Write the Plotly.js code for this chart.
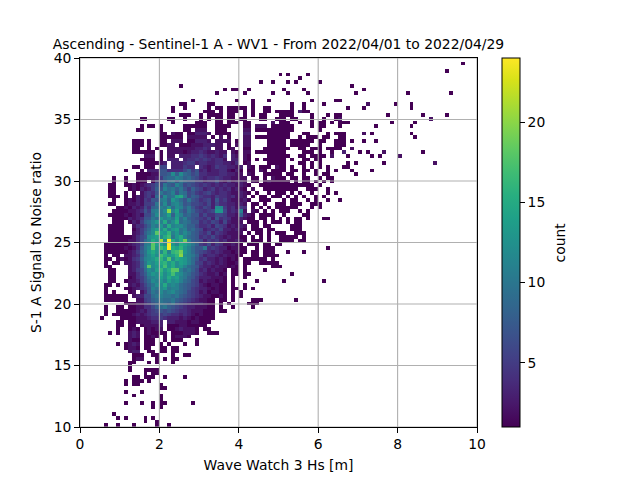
<!DOCTYPE html>
<html>
<head>
<meta charset="utf-8">
<script src="https://cdn.plot.ly/plotly-3.0.1.min.js"></script>
<style>html,body{margin:0;padding:0;background:#fff}</style>
</head>
<body>
<div id="chart" style="width:640px;height:480px"></div>
<script>
var xTicks = [0, 2, 4, 6, 8, 10];
var yTicks = [10, 15, 20, 25, 30, 35, 40];
var barTicks = [5, 10, 15, 20];
var binCountX = 100;
var binWidthX = 0.1;
var binWidthY = 0.3;
var topEdgeY = 40;
// counts per bin, top row first. "column:values", base-36 digits, '.' = empty bin
var countRows = [
"",
"96:1",
"",
"92:1",
"50:1.1 57:1",
"55:1",
"45:1 48:1 52:1.1 60:1",
"25:1 68:1",
"36:1.11..1 51:1 56:1 71:1",
"34:1 41:1 48:1 52:1 57:1 69:1 82:1 93:1",
"",
"28:1 39:1 43:1 47:1 58:1 64:11",
"25:11 32:11 43:1 53:1 56:1 61:1 72:2 79:1 83:1",
"23:1..1 32:1.11.11111.1 46:11 53:1 56:1 67:1 71:1 83:1",
"23:1 31:11 33:1.1.111.1.1 46:11 49:11111.3 56:11",
"25:111 30:1.1111.11..1.1.11 50:1111 58:1 62:1 64:11 77:1 86:1 92:1",
"15:11 22:11 26:1 30:1 32:1 34:11 37:11 40:11 45:11 49:111.11 58:1 61:1 64:12 88:2",
"23:1 29:11 31:1 34:11 37:111 41:11 48:2 50:111 55:1 58:1 60:11 63:1 65:111 78:1 84:1",
"15:1 17:11 20:1 26:111111 34:1111 41:11 44:222 48:111111 58:1 60:11 65:1 74:1 83:1",
"14:11 20:1 26:11 29:2 30:22 34:111 41:22 44:111111 50:1111 60:1",
"20:11 23:2 24:11 27:11 29:3 30:332 34:1111 41:33 47:111111 56:11 62:1 64:111 71:2 73:1 83:1",
"20:111111.22222.1.2.1 40:.22.111111 50:111..1.111 60:.11 65:11 84:1",
"13:111 17:1 20:11.222.113 30:332.2222.1 40:.22....111 50:11.111 56:11 58:1 60:11 64:111 68:1 71:1 74:1",
"13:111 17:1 20:1122.11122 30:233322.1.2 40:.22....111 50:11.111 56:11 60:1 64:111",
"13:11 17:1 19:1 22:22222 27:22 29:3 30:343.22.12 40:.11...1111 50:111..11.11 60:1.1 63:111 68:2",
"13:1111 17:11 20:1.2222123 29:3 30:4322322.21 40:.22.111111 50:11....111. 60:1 63:1 66:3 70:1 72:1 76:2 86:1",
"16:222 20:1.22.3 26:3344 30:5434324.32 40:.21....111 50:111..11.11 60:11 63:2 67:1 73:1 75:1 80:2",
"15:111 18:1 20:1.33 24:3 26:3445 30:4543442.33 40:.21.1.1111 50:11.1..11.1 60:1",
"16:1 17:111 20:23.33 25:3455 29:3 30:4433443324 40:.12....111 50:11...11.1. 60:1 67:1.1 76:1 89:2",
"13:11 16:111 20:66 23:333 26:54 28:4 30:4323544332 40:3.21.111.2 50:11.1..1.1. 60:1.1...11",
"11:1 15:1 17:333 20:77 22:44 24:44 26:6857 30:3423344213 40:1.11.21.11 50:11.11.11.1 62:1.1...1 73:1",
"14:1111 18:22 20:778c8c9867 30:4433344332 40:2.21..1111 50:1.11..1..1 61:11 69:1",
"8:1 11:1 14:11122 19:3 20:5899ba8976 30:4344543322 40:22.11.1.21 50:11.11.11.. 60:1.11",
"8:1 11:1 14:111.1 19:5 20:669a7a8775 30:5344632423 40:32.21.1211 50:111.1.11.1 61:1.1",
"7:11 11:1 12:1212 16:3 17:4 18:5 19:7 20:6a87b96765 30:4543434332 40:321..11111 50:111111111. 60:1",
"7:11 12:1213 16:2 17:35 19:8 20:7b9a8a7586 30:5345343423 40:21.2..1111 50:11111..111 62:1",
"7:11 11:1 13:1.2 16:454 19:7 20:a89b7a9675 30:4564344322 40:321.1..1.1 50:11.1.1..1 58:1 62:1 64:1",
"7:111 11:1 13:132 16:453 19:9 20:7c9aefa687 30:5443544342 40:32.1.11.11 50:1.1.1.1..1 61:1",
"8:1 11:1213 15:25 17:47 19:7 20:ab8db97a76 30:4563745322 40:231..111 51:1 53:11 57:1 59:1 62:1 65:1",
"7:11 11:1223 15:25 17:56 19:a 20:9c8bca7866 30:5463644332 40:32.11.1..1 50:11.111..11 60:1",
"9:11 11:213 14:236 17:48 19:9 20:bad9cb8a75 30:4653cc5342 40:54.1.1.1.1 50:11111 58:1 60:1",
"8:111 11:122 14:347 17:5a 19:b 20:ackbe97a86 30:5456dd6343 40:b2.21.1.1. 50:111 55:1 57:1",
"7:1111 11:212 14:326 17:69 19:c 20:abe8db8977 30:4644665332 40:8321.1111. 51:1 56:11",
"8:111 11:132 14:347 17:7a 19:9 20:dbcae9b876 30:5463745422 40:3211.11.1. 50:1.1.11 57:1 61:11",
"8:111 12:13 14:258 17:9b 19:d 20:bfacf9a977 30:4546536322 40:2.111.1.11 50:1.1.11",
"7:111 10:1 13:24 15:46 17:8b 19:a 20:dafbcca886 30:4453654232 40:32.11.11 53:111",
"7:1111 13:13 15:57 17:9c 19:e 20:cfbdeab897 30:6345463323 40:21.111.11. 53:111",
"7:1111 13:2 14:35 16:8a 18:ci 20:edgbdaca87 30:5463543222 40:2.1.11.1.1 50:11..111",
"7:111 10:11 12:12 14:46 16:7c 18:de 20:cfhadfb987 30:4546432322 40:11.1.1.1.. 50:11111.1",
"7:1111 11:12 13:24 15:69 17:bf 19:d 20:lcofcfjb87 30:6354534223 40:21.111.1.. 50:1111.11",
"6:11111 11:12 13:34 15:6a 17:bi 19:e 20:ecodbfeca8 30:5463542232 40:1.111.11.1 50:1",
"6:11111 11:21 13:24 15:7a 17:ci 19:d 20:hfofegdb97 30:7a45433122 40:11..1.111 62:1",
"6:1111 10:11 12:23 14:58 16:ad 18:f 19:d 20:cgbghjdb97 30:6543432212 40:11.11.111 52:1 56:1",
"6:1 8:11 11:2 12:23 14:47 16:ac 18:e 19:c 20:hfdegkcba8 30:5344323221 40:1..11.1111",
"6:11.1 10:21 12:24 14:58 16:bc 18:d 19:f 20:gdicfedb97 30:4533232121 41:111111.1",
"6:1.11 11:2 12:23 14:47 16:ad 18:c 19:e 20:fgdfcedb96 30:5343232112 41:11..11111",
"6:11 12:23 14:47 16:ai 18:c 19:d 20:ehdfcdb987 30:4332322121 41:1 48:111",
"7:11 12:2 13:35 15:69 17:cb 19:e 20:gdfiib9a86 30:3423221.11 41:1 46:1",
"7:11 12:2 13:24 15:68 17:bd 19:c 20:fcehdca976 30:4322312.11 41:11 53:1",
"7:1 8:1 12:1 13:24 15:57 17:ab 19:c 20:ecfdeba875 30:3332221.1. 41:1",
"7:11 11:12 13:23 15:57 17:9c 19:b 20:dbecdb9865 30:2322121.1 44:1 51:1 61:1",
"6:11 9:1 12:2 13:32 15:46 17:8a 19:c 20:cfbcb98765 30:3212211.1 41:1",
"6:1 11:11 13:23 15:45 17:7b 19:a 20:cdabb98754 30:3321211.11 41:1 43:1",
"6:1.1 12:12 15:24 17:7a 19:9 20:cabca98654 30:2312211.1 40:1",
"6:111111 13:23 15:36 17:69 19:a 20:baa9a87654 30:3221121.1 40:1",
"6:11111 11:1 14:2 15:25 17:68 19:9 20:a99a876543 30:2211.11.1 43:111 54:1",
"11:1 12:1 13:12 15:24 17:57 19:8 20:a98a765433 30:3211.1.1 42:111",
"6:1 9:11 12:1 13:12 15:24 17:46 19:8 20:9a87654332 30:2211.1..1 43:1",
"6:1 9:111 12:11 14:232 17:4 18:5 19:6 20:7676544322 30:2111.11",
"6:1 8:1111 12:1232 16:3 17:45 19:5 20:5654434321 30:2111",
"5:1 10:111 13:1222 17:34 19:4 20:5433323212 30:1111",
"9:1 10:1 12:1122 16:22 18:33 20:3.33222122 30:111",
"9:11 12:11 15:1222 19:23 22:1 23:112211 29:1 30:11",
"9:1 12:121 16:1212 20:2.1 23:123222 29:1 31:11",
"7:1 9:1 12:232 16:1211 20:1 21:1 23:111222 29:1 32:11 34:1",
"12:232 16:1121 21:1 23:12221",
"12:211 16:111 21:1 23:111 29:1",
"9:1 11:1 12:232 16:111 20:1 22:1 26:1 29:1",
"11:1 12:221 16:11 20:11 23:11",
"12:233 17:11 20:1 21:1 23:11",
"13:111 18:1 19:1 23:1 26:11",
"13:1 14:22 19:1 21:1 23:11",
"12:11 17:1 19:1 23:1",
"12:1",
"12:1 16:1 17:111",
"16:1 18:11",
"13:11 16:111 21:1 26:1",
"11:1 13:111 17:1",
"11:1 13:11 20:1",
"20:11",
"11:1 15:1",
"13:1 20:1",
"20:1",
"11:1 15:1 18:1 20:1 21:1 28:1",
"18:1 20:1",
"",
"8:1",
"9:1 11:1 16:1 18:1",
"16:1 19:1",
"6:1 9:1 13:1 19:1 22:1"
];

var z = countRows.map(function (row) {
  var cells = [];
  for (var i = 0; i < binCountX; i++) cells.push(null);
  row.split(" ").forEach(function (tok) {
    if (!tok) return;
    var p = tok.split(":"), start = parseInt(p[0], 10);
    for (var k = 0; k < p[1].length; k++) {
      if (p[1][k] !== ".") cells[start + k] = parseInt(p[1][k], 36);
    }
  });
  return cells;
});

var gridLine = {color: "#b0b0b0", width: 1.1};
var gridShapes = xTicks.map(function (v) {
  return {type: "line", layer: "above", xref: "x", yref: "paper", x0: v, x1: v, y0: 0, y1: 1, line: gridLine};
}).concat(yTicks.map(function (v) {
  return {type: "line", layer: "above", xref: "paper", yref: "y", x0: 0, x1: 1, y0: v, y1: v, line: gridLine};
}));

var font = {family: "DejaVu Sans", size: 13.89, color: "#000"};
var axisBase = {
  showgrid: false, zeroline: false, showline: true, mirror: true,
  linecolor: "#000", linewidth: 1, ticks: "outside", ticklen: 4.8, tickwidth: 1,
  tickcolor: "#000", tickfont: font, fixedrange: true
};

Plotly.newPlot("chart", [{
  type: "heatmap",
  z: z,
  x0: binWidthX / 2, dx: binWidthX,
  y0: topEdgeY - binWidthY / 2, dy: -binWidthY,
  zmin: 1, zmax: 24,
  colorscale: "Viridis",
  hoverongaps: false,
  colorbar: {
    x: 1.063, xanchor: "left", xpad: 0, y: 0.5, yanchor: "middle",
    len: 1, lenmode: "fraction", ypad: 0,
    thickness: 18, thicknessmode: "pixels",
    outlinecolor: "#000", outlinewidth: 1,
    ticks: "outside", ticklen: 4.8, tickwidth: 1, tickcolor: "#000",
    tickvals: barTicks, ticktext: barTicks.map(String), tickfont: font
  }
}], Object.assign({
  width: 640, height: 480,
  margin: {l: 80, r: 163, t: 58, b: 53, pad: 0},
  paper_bgcolor: "#fff", plot_bgcolor: "#fff",
  font: font,
  title: {
    text: "Ascending - Sentinel-1 A - WV1 - From 2022/04/01 to 2022/04/29",
    font: font, xref: "paper", x: 0.5, xanchor: "center",
    yref: "container", y: 0.908, yanchor: "middle"
  },
  xaxis: Object.assign({}, axisBase, {
    range: [0, 10], tickvals: xTicks, ticktext: xTicks.map(String),
    title: {text: "Wave Watch 3 Hs [m]", font: font, standoff: 8}
  }),
  yaxis: Object.assign({}, axisBase, {
    range: [10, 40], tickvals: yTicks, ticktext: yTicks.map(String),
    title: {text: "S-1 A Signal to Noise ratio", font: font, standoff: 8}
  }),
  annotations: [{
    text: "count", font: font, textangle: -90, showarrow: false,
    xref: "paper", yref: "paper", x: 1.209, y: 0.5, xanchor: "center", yanchor: "middle"
  }],
  shapes: gridShapes
}), {displayModeBar: false, staticPlot: true});
</script>
</body>
</html>
